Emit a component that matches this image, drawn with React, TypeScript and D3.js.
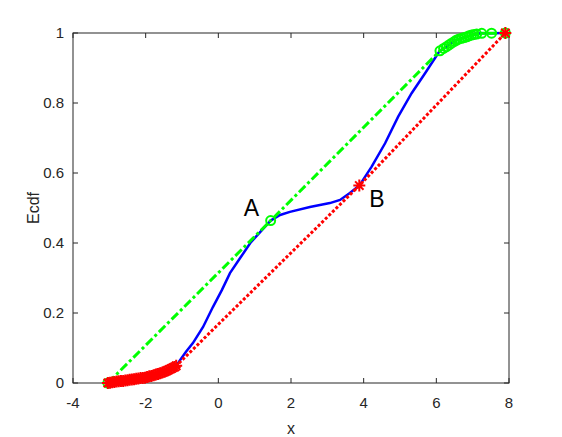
import React, { useEffect, useRef } from 'react'
import * as d3 from 'd3'

// empirical cdf (blue)
const ecdfX = [-3.04, -2.84, -2.65, -2.43, -2.21, -2.02, -1.83, -1.66, -1.52, -1.39, -1.27, -1.16,
  -1.05, -0.89, -0.70, -0.42, -0.15, 0.10, 0.32, 0.60, 0.88, 1.15, 1.44, 1.70, 1.97, 2.52, 3.07,
  3.35, 3.62, 3.88, 4.22, 4.59, 4.95, 5.32, 5.69, 6.05, 6.10, 6.28, 6.42, 6.56, 6.70, 6.84, 6.97,
  7.11, 7.25, 7.52, 7.90]
const ecdfY = [0, 0.003, 0.006, 0.009, 0.011, 0.014, 0.02, 0.026, 0.031, 0.037, 0.043, 0.049,
  0.066, 0.089, 0.114, 0.16, 0.217, 0.266, 0.314, 0.357, 0.40, 0.431, 0.464, 0.48, 0.489, 0.503, 0.514,
  0.523, 0.543, 0.564, 0.618, 0.685, 0.761, 0.828, 0.885, 0.942, 0.949, 0.961, 0.971, 0.98, 0.985, 0.989, 0.994,
  0.997, 0.999, 0.9994, 1]

// upper hull (green)
const upperX = [-3.04, 1.44, 6.10, 6.20, 6.28, 6.35, 6.42, 6.50, 6.56, 6.63, 6.70, 6.77, 6.84, 6.90, 6.97, 7.04, 7.11, 7.25, 7.52, 7.90]
const upperY = [0, 0.464, 0.949, 0.956, 0.961, 0.966, 0.971, 0.976, 0.98, 0.983, 0.985, 0.987, 0.989, 0.992, 0.994, 0.996, 0.997, 0.999, 0.9994, 1]

// lower hull (red)
const lowerX = [-3.04, -2.98, -2.92, -2.86, -2.80, -2.74, -2.68, -2.62, -2.56, -2.50, -2.44, -2.38, -2.32,
  -2.26, -2.20, -2.14, -2.08, -2.02, -1.96, -1.90, -1.84, -1.78, -1.72, -1.66, -1.60, -1.54, -1.48,
  -1.42, -1.36, -1.30, -1.24, -1.20, -1.16, 3.88, 7.90]
const lowerY = [0, 0.001, 0.002, 0.003, 0.004, 0.005, 0.006, 0.006, 0.007, 0.008, 0.009, 0.01, 0.011,
  0.012, 0.013, 0.014, 0.014, 0.015, 0.017, 0.019, 0.02, 0.022, 0.024, 0.026, 0.028, 0.03, 0.032,
  0.035, 0.038, 0.041, 0.044, 0.046, 0.049, 0.564, 1]

const xTicks = [-4, -2, 0, 2, 4, 6, 8]
const yTicks = [0, 0.2, 0.4, 0.6, 0.8, 1]

const pointLabels = [
  { text: 'A', x: 1.44, y: 0.464, dx: -27, dy: -5 },
  { text: 'B', x: 3.88, y: 0.564, dx: 10, dy: 21 },
]

const W = 562
const H = 437
const margin = { top: 33, right: 53, bottom: 54, left: 73 }
const FONT = 'Liberation Sans, Arial, Helvetica, sans-serif'

export default function App() {
  const ref = useRef<SVGSVGElement>(null)

  useEffect(() => {
    const svg = d3.select(ref.current)
    svg.selectAll('*').remove()
    const width = W - margin.left - margin.right
    const height = H - margin.top - margin.bottom

    const x = d3.scaleLinear().domain([-4, 8]).range([0, width])
    const y = d3.scaleLinear().domain([0, 1]).range([height, 0])

    const g = svg.append('g').attr('transform', `translate(${margin.left},${margin.top})`)

    const pts = (xs: number[], ys: number[]) => xs.map((v, i) => [v, ys[i]] as [number, number])
    const ln = d3.line<[number, number]>().x(d => x(d[0])).y(d => y(d[1]))

    // axes box with inward ticks
    const axisColor = '#262626'
    g.append('rect').attr('width', width).attr('height', height)
      .attr('fill', 'none').attr('stroke', axisColor).attr('stroke-width', 1)

    const tk = 5
    xTicks.forEach(t => {
      g.append('line').attr('x1', x(t)).attr('x2', x(t)).attr('y1', height).attr('y2', height - tk)
        .attr('stroke', axisColor)
      g.append('line').attr('x1', x(t)).attr('x2', x(t)).attr('y1', 0).attr('y2', tk)
        .attr('stroke', axisColor)
      g.append('text').attr('x', x(t)).attr('y', height + 25).attr('text-anchor', 'middle')
        .attr('font-family', FONT).attr('font-size', 15).attr('fill', axisColor).text(t)
    })
    yTicks.forEach(t => {
      g.append('line').attr('x1', 0).attr('x2', tk).attr('y1', y(t)).attr('y2', y(t))
        .attr('stroke', axisColor)
      g.append('line').attr('x1', width).attr('x2', width - tk).attr('y1', y(t)).attr('y2', y(t))
        .attr('stroke', axisColor)
      g.append('text').attr('x', -9).attr('y', y(t) + 5).attr('text-anchor', 'end')
        .attr('font-family', FONT).attr('font-size', 15).attr('fill', axisColor).text(t)
    })

    g.append('text').attr('x', width / 2).attr('y', height + 51).attr('text-anchor', 'middle')
      .attr('font-family', FONT).attr('font-size', 16).attr('fill', axisColor).text('x')
    g.append('text').attr('transform', `translate(-34,${height / 2}) rotate(-90)`)
      .attr('text-anchor', 'middle')
      .attr('font-family', FONT).attr('font-size', 16).attr('fill', axisColor).text('Ecdf')

    // ecdf
    g.append('path').datum(pts(ecdfX, ecdfY)).attr('d', ln)
      .attr('fill', 'none').attr('stroke', '#0000ff').attr('stroke-width', 2.5)

    // upper hull
    const up = pts(upperX, upperY)
    g.append('path').datum(up).attr('d', ln)
      .attr('fill', 'none').attr('stroke', '#00ff00').attr('stroke-width', 3)
      .attr('stroke-dasharray', '9,3,3,3')
    g.selectAll('.up').data(up).enter().append('circle')
      .attr('cx', d => x(d[0])).attr('cy', d => y(d[1])).attr('r', 4.5)
      .attr('fill', 'none').attr('stroke', '#00ff00').attr('stroke-width', 2)

    // lower hull
    const lo = pts(lowerX, lowerY)
    g.append('path').datum(lo).attr('d', ln)
      .attr('fill', 'none').attr('stroke', '#ff0000').attr('stroke-width', 3)
      .attr('stroke-dasharray', '3,2')
    const s = 6
    const star = `M${-s},0L${s},0M0,${-s}L0,${s}M${-s * 0.7},${-s * 0.7}L${s * 0.7},${s * 0.7}M${-s * 0.7},${s * 0.7}L${s * 0.7},${-s * 0.7}`
    g.selectAll('.lo').data(lo).enter().append('path')
      .attr('transform', d => `translate(${x(d[0])},${y(d[1])})`)
      .attr('d', star).attr('fill', 'none').attr('stroke', '#ff0000').attr('stroke-width', 2)

    pointLabels.forEach(p => {
      g.append('text').attr('x', x(p.x) + p.dx).attr('y', y(p.y) + p.dy)
        .attr('font-family', FONT).attr('font-size', 23).attr('fill', '#000').text(p.text)
    })
  }, [])

  return (
    <svg ref={ref} width={W} height={H}
      style={{ position: 'absolute', left: 0, top: 0, background: '#fff' }} />
  )
}
